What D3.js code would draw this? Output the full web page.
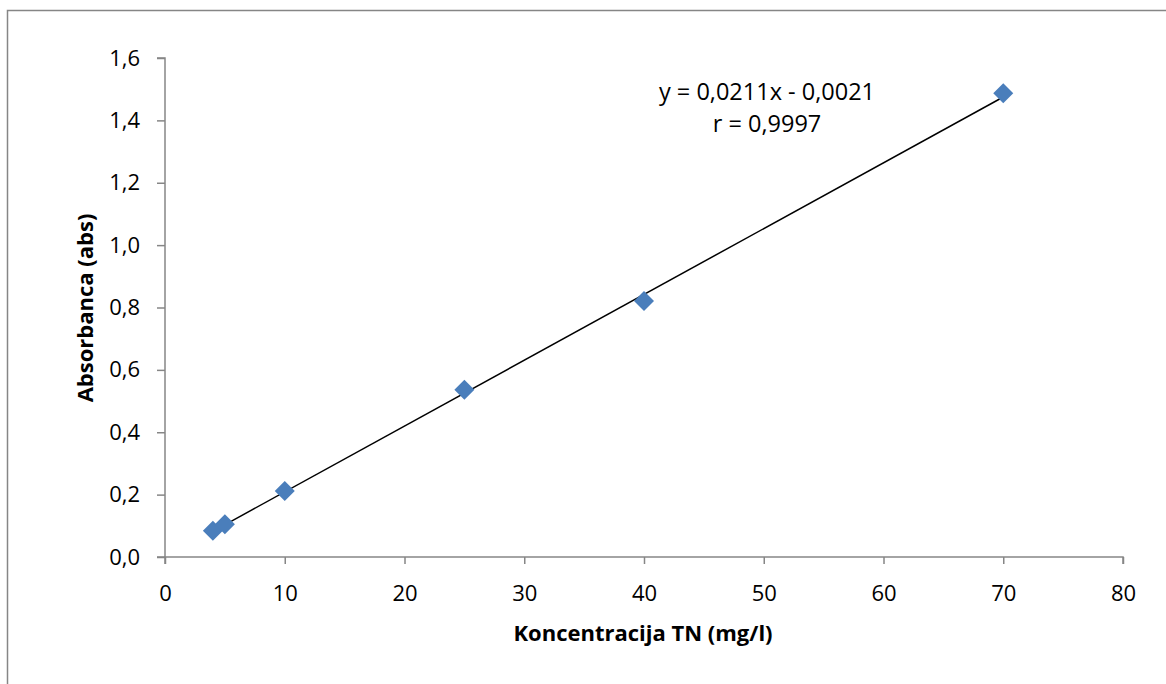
<!DOCTYPE html>
<html><head><meta charset="utf-8">
<script src="https://cdn.jsdelivr.net/npm/d3@7"></script>
<style>body{margin:0;background:#fff}svg{display:block}</style>
</head><body>
<svg id="c" width="1166" height="684"></svg>
<script>
const concentrations = [4, 5, 10, 25, 40, 70];
const absorbances = [0.084, 0.105, 0.212, 0.536, 0.821, 1.487];
const xTicks = [0, 10, 20, 30, 40, 50, 60, 70, 80];
const yTicks = [0, 0.2, 0.4, 0.6, 0.8, 1.0, 1.2, 1.4, 1.6];
const slope = 0.0211, intercept = -0.0021;
const equationText = "y = 0,0211x - 0,0021";
const rText = "r = 0,9997";
const xTitle = "Koncentracija TN (mg/l)";
const yTitle = "Absorbanca (abs)";

const svg = d3.select("#c");
const font = "'Open Sans', 'Noto Sans', sans-serif";
const fs = 22;
svg.append("rect").attr("x", 7.5).attr("y", 10.5).attr("width", 1170).attr("height", 700)
  .attr("fill", "#fff").attr("stroke", "#868686").attr("stroke-width", 1.5);

const x = d3.scaleLinear().domain([0, 80]).range([165, 1123]);
const y = d3.scaleLinear().domain([0, 1.6]).range([557, 58]);
const fmt = d => d3.format(".1f")(d).replace(".", ",");

const gx = svg.append("g").attr("transform", "translate(0,557)")
  .call(d3.axisBottom(x).tickValues(xTicks).tickSize(7).tickPadding(21).tickFormat(d3.format("d")));
const gy = svg.append("g").attr("transform", "translate(165,0)")
  .call(d3.axisLeft(y).tickValues(yTicks).tickSize(8).tickPadding(17).tickFormat(fmt));
[gx, gy].forEach(g => {
  g.selectAll("path,line").attr("stroke", "#868686").attr("stroke-width", 1.5);
  g.selectAll("text").attr("font-family", font).attr("font-size", fs).attr("fill", "#000");
});
gx.select(".domain").attr("d", "M165,7V0H1123V7");
gy.select(".domain").attr("d", "M-8,58H0V557H-8");

const line = d3.line().x(d => x(d)).y(d => y(slope * d + intercept));
svg.append("path").datum([d3.min(concentrations), d3.max(concentrations)])
  .attr("d", line).attr("stroke", "#000").attr("stroke-width", 1.5).attr("fill", "none");

const pts = concentrations.map((c, i) => [c, absorbances[i]]);
svg.append("g").selectAll("path").data(pts).join("path")
  .attr("d", d3.symbol(d3.symbolSquare, 200)())
  .attr("transform", d => `translate(${x(d[0])},${y(d[1])}) rotate(45)`)
  .attr("fill", "#4A7EBB");

svg.append("text").attr("x", 767).attr("y", 100).attr("text-anchor", "middle")
  .attr("font-family", font).attr("font-size", 23.5).text(equationText);
svg.append("text").attr("x", 767).attr("y", 132).attr("text-anchor", "middle")
  .attr("font-family", font).attr("font-size", 23.5).text(rText);

svg.append("text").attr("x", 643).attr("y", 641).attr("text-anchor", "middle")
  .attr("font-family", font).attr("font-size", fs).attr("font-weight", "bold").text(xTitle);
svg.append("text").attr("transform", "translate(93,308) rotate(-90)").attr("text-anchor", "middle")
  .attr("font-family", font).attr("font-size", fs).attr("font-weight", "bold").text(yTitle);
</script>
</body></html>
